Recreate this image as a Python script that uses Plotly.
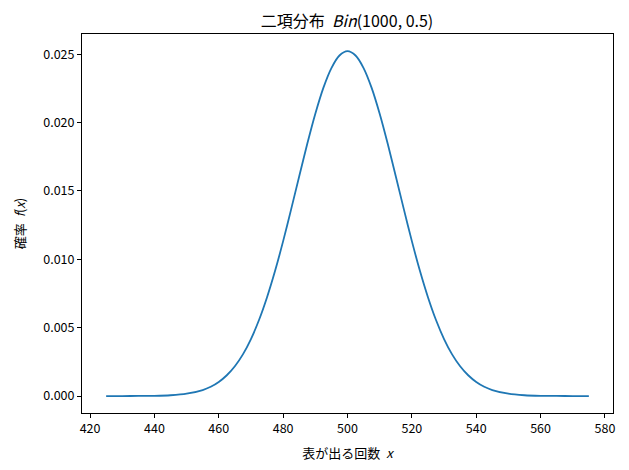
import plotly.graph_objects as go

# number of heads x, and probability f(x)
heads = [425, 430, 435, 440, 445, 450, 455, 457.5, 460, 462.5, 465, 467.5, 470, 472.5,
         475, 477.5, 480, 482.5, 485, 487.5, 490, 492.5, 495, 497.5, 500,
         502.5, 505, 507.5, 510, 512.5, 515, 517.5, 520, 522.5, 525, 527.5, 530,
         532.5, 535, 537.5, 540, 542.5, 545, 550, 555, 560, 565, 570, 575]
prob = [0.0000003, 0.0000014, 0.0000054, 0.000019, 0.00006, 0.00017, 0.00044, 0.00068,
        0.00103, 0.00152, 0.00218, 0.00305, 0.00417, 0.00556, 0.00723, 0.00916,
        0.01133, 0.01367, 0.01608, 0.01845, 0.02065, 0.02254, 0.02399, 0.02491, 0.02523,
        0.02491, 0.02399, 0.02254, 0.02065, 0.01845, 0.01608, 0.01367, 0.01133,
        0.00916, 0.00723, 0.00556, 0.00417, 0.00305, 0.00218, 0.00152, 0.00103,
        0.00068, 0.00044, 0.00017, 0.00006, 0.000019, 0.0000054, 0.0000014, 0.0000003]

x_ticks = [420, 440, 460, 480, 500, 520, 540, 560, 580]
y_ticks = [0.000, 0.005, 0.010, 0.015, 0.020, 0.025]

jp = "Noto Sans CJK JP"

fig = go.Figure(go.Scatter(
    x=heads, y=prob, mode="lines",
    line=dict(color="#1f77b4", width=1.8, shape="spline", smoothing=0.8),
))

axis_common = dict(
    showgrid=False, zeroline=False, showline=True, mirror=True,
    linecolor="black", linewidth=1, ticks="outside", ticklen=4,
    tickcolor="black", tickfont=dict(family=jp, size=12.5, color="black"),
)

# page body adds an 8px offset at top/left, so the figure is a bit smaller than the window
fig.update_layout(
    width=621, height=462,
    margin=dict(l=70, r=16, t=26, b=56),
    paper_bgcolor="white", plot_bgcolor="white",
    showlegend=False,
    title=dict(
        text="二項分布  <i>Bin</i>(1000, 0.5)",
        x=0.546, xanchor="center", y=0.97, yanchor="middle",
        font=dict(family=jp, size=16, color="black"),
    ),
    xaxis=dict(axis_common, range=[417.5, 582.5], tickvals=x_ticks,
               title=dict(text="表が出る回数  <i>x</i>", standoff=12,
                          font=dict(family=jp, size=13, color="black"))),
    yaxis=dict(axis_common, range=[-0.00124, 0.02648], tickvals=y_ticks,
               tickformat=".3f",
               title=dict(text="確率  <i>f</i>(<i>x</i>)", standoff=14,
                          font=dict(family=jp, size=13, color="black"))),
)

fig.write_html("out.html")
